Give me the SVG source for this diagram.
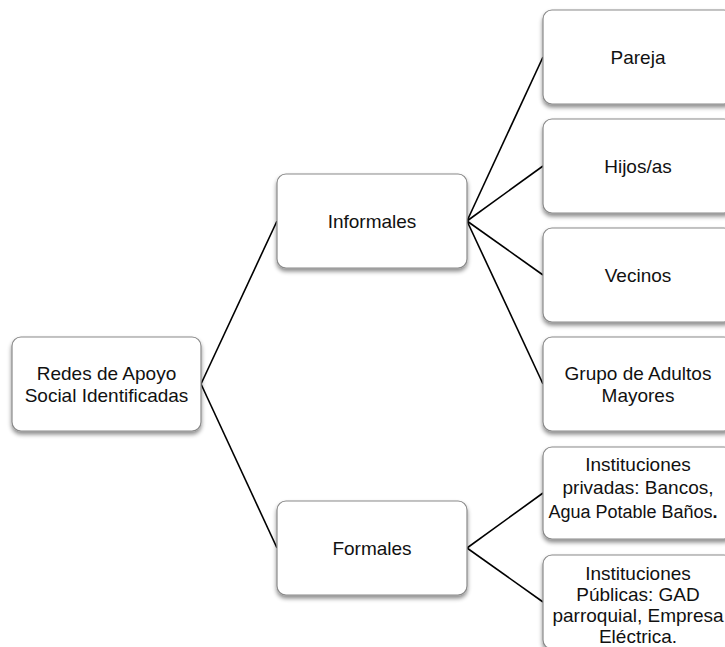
<svg xmlns="http://www.w3.org/2000/svg" width="725" height="647" viewBox="0 0 725 647">
<style>
.box{fill:#fff;stroke:#8a8a8a;stroke-width:1.2;filter:url(#sh)}
.t{font-family:"Liberation Sans",Arial,sans-serif;font-size:19px;fill:#111;text-anchor:middle}
.c{stroke:#000;stroke-width:1.6;fill:none}
</style>
<defs>
<filter id="sh" x="-10%" y="-10%" width="120%" height="130%">
<feDropShadow dx="0" dy="3" stdDeviation="2" flood-color="#000" flood-opacity="0.45"/>
</filter>
</defs>
<rect width="725" height="647" fill="#fff"/>
<g id="connectors">
<line class="c" x1="201" y1="384" x2="277" y2="221"/>
<line class="c" x1="201" y1="384" x2="277" y2="548"/>
<line class="c" x1="467" y1="221" x2="543" y2="57"/>
<line class="c" x1="467" y1="221" x2="543" y2="166"/>
<line class="c" x1="467" y1="221" x2="543" y2="275"/>
<line class="c" x1="467" y1="221" x2="543" y2="384"/>
<line class="c" x1="467" y1="548" x2="543" y2="493"/>
<line class="c" x1="467" y1="548" x2="543" y2="602"/>
</g>
<g id="root">
<rect class="box" x="12" y="337" width="189" height="94" rx="9"/>
<text class="t" x="106.5" y="380">Redes de Apoyo</text>
<text class="t" x="106.5" y="402">Social Identificadas</text>
</g>
<g id="informales">
<rect class="box" x="277" y="174" width="190" height="94" rx="9"/>
<text class="t" x="372" y="228">Informales</text>
</g>
<g id="formales">
<rect class="box" x="277" y="501" width="190" height="94" rx="9"/>
<text class="t" x="372" y="555">Formales</text>
</g>
<g id="pareja">
<rect class="box" x="543" y="10" width="190" height="94" rx="9"/>
<text class="t" x="638" y="64">Pareja</text>
</g>
<g id="hijos">
<rect class="box" x="543" y="119" width="190" height="94" rx="9"/>
<text class="t" x="638" y="173">Hijos/as</text>
</g>
<g id="vecinos">
<rect class="box" x="543" y="228" width="190" height="94" rx="9"/>
<text class="t" x="638" y="282">Vecinos</text>
</g>
<g id="grupo">
<rect class="box" x="543" y="337" width="190" height="94" rx="9"/>
<text class="t" x="638" y="380">Grupo de Adultos</text>
<text class="t" x="638" y="402">Mayores</text>
</g>
<g id="privadas">
<rect class="box" x="543" y="447" width="190" height="92" rx="9"/>
<text class="t" x="638" y="471">Instituciones</text>
<text class="t" x="638" y="494">privadas: Bancos,</text>
<text class="t" x="633" y="518" style="font-size:18px">Agua Potable Baños<tspan style="font-weight:bold">.</tspan></text>
</g>
<g id="publicas">
<rect class="box" x="543" y="555" width="190" height="94" rx="9"/>
<text class="t" x="638" y="580">Instituciones</text>
<text class="t" x="638" y="601">Públicas: GAD</text>
<text class="t" x="638" y="622">parroquial, Empresa</text>
<text class="t" x="638" y="643">Eléctrica.</text>
</g>
</svg>
